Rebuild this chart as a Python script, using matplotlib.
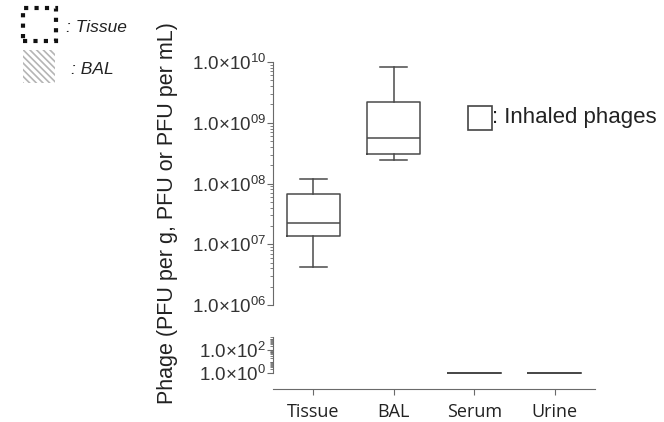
import numpy as np
import matplotlib.pyplot as plt
from matplotlib.patches import Rectangle
from matplotlib.ticker import FixedLocator, LogLocator, NullFormatter

plt.rcParams['font.family'] = ['Liberation Sans', 'DejaVu Sans']
plt.rcParams['mathtext.fontset'] = 'custom'
plt.rcParams['mathtext.rm'] = 'Liberation Sans'
plt.rcParams['mathtext.it'] = 'Liberation Sans:italic'
plt.rcParams['hatch.linewidth'] = 1.2

# data
groups = ['Tissue', 'BAL', 'Serum', 'Urine']
whislo = [4.2e6, 2.4e8, 1.0, 1.0]
q1 = [1.35e7, 3.1e8, 1.0, 1.0]
med = [2.2e7, 5.7e8, 1.0, 1.0]
q3 = [6.6e7, 2.2e9, 1.0, 1.0]
whishi = [1.2e8, 8.3e9, 1.0, 1.0]

top_ticks = [1e6, 1e7, 1e8, 1e9, 1e10]
bot_ticks = [1e0, 1e2]

stats = []
for i in range(len(groups)):
    stats.append(dict(med=med[i], q1=q1[i], q3=q3[i], whislo=whislo[i],
                      whishi=whishi[i], fliers=[], label=groups[i]))

lc = '#4a4a4a'
sc = '#6a6a6a'
W, H = 664, 422
fig = plt.figure(figsize=(6.64, 4.22), dpi=100)

left = 273 / W
width = 322 / W
ax_top = fig.add_axes([left, 1 - 305 / H, width, (305 - 62) / H])
ax_bot = fig.add_axes([left, 1 - 389 / H, width, (389 - 337) / H])

pos = np.arange(len(groups))
props = dict(color=lc, linewidth=1.1)
for ax, idx in ((ax_top, [0, 1]), (ax_bot, [2, 3])):
    ax.bxp([stats[i] for i in idx], positions=pos[idx], widths=0.66,
           showfliers=False, boxprops=props, whiskerprops=props,
           capprops=props, medianprops=props)
    ax.set_yscale('log')
    ax.set_xlim(-0.5, 3.5)
    for s in ['top', 'right']:
        ax.spines[s].set_visible(False)
    ax.spines['left'].set_color(sc)
    ax.tick_params(axis='y', colors=sc, labelcolor='#333333', labelsize=13.5,
                   length=4, width=0.8, pad=1)
    ax.tick_params(axis='y', which='minor', colors=sc, length=2, width=0.6)

ax_top.set_ylim(1e6, 1e10)
ax_top.spines['bottom'].set_visible(False)
ax_top.set_xticks([])
ax_top.yaxis.set_major_locator(FixedLocator(top_ticks))
ax_top.set_yticklabels([r'1.0×10$^{%02d}$' % int(np.log10(t)) for t in top_ticks])
ax_top.yaxis.set_minor_locator(LogLocator(base=10, subs=np.arange(2, 10)))
ax_top.yaxis.set_minor_formatter(NullFormatter())

ax_bot.set_ylim(10 ** -1.4, 10 ** 3.1)
ax_bot.spines['left'].set_bounds(1, 10 ** 3.1)
ax_bot.spines['bottom'].set_color(sc)
ax_bot.yaxis.set_major_locator(FixedLocator(bot_ticks))
ax_bot.set_yticklabels([r'1.0×10$^{%d}$' % int(np.log10(t)) for t in bot_ticks])
bot_minor = [m * 10 ** e for e in range(3) for m in range(2, 10)] + [10 ** 3.1]
ax_bot.yaxis.set_minor_locator(FixedLocator(bot_minor))
ax_bot.yaxis.set_minor_formatter(NullFormatter())
ax_bot.set_xticks(pos)
ax_bot.set_xticklabels(groups, fontsize=13, family='Open Sans', color='#222222')
ax_bot.tick_params(axis='x', colors=sc, labelcolor='#222222', length=4, pad=6)

fig.text(167 / W, 1 - 213 / H, 'Phage (PFU per g, PFU or PFU per mL)',
         rotation=90, ha='center', va='center', fontsize=15.5, color='#222222')

# legend-like keys
fig.add_artist(Rectangle((23 / W, 1 - 41 / H), 33 / W, 33 / H, transform=fig.transFigure,
                         fill=False, edgecolor='#111111', linestyle=(0, (1, 1.5)),
                         linewidth=3))
fig.text(66 / W, 1 - 27 / H, ': Tissue', fontsize=12.5, style='italic',
         va='center', color='#222222')
fig.add_artist(Rectangle((23 / W, 1 - 83 / H), 32 / W, 33 / H, transform=fig.transFigure,
                         facecolor='white', edgecolor='#b5b5b5', hatch='\\\\\\\\\\',
                         linewidth=0))
fig.text(71 / W, 1 - 70 / H, ': BAL', fontsize=12.5, style='italic',
         va='center', color='#222222')
fig.add_artist(Rectangle((468 / W, 1 - 130 / H), 24 / W, 24 / H, transform=fig.transFigure,
                         fill=False, edgecolor='#444444', linewidth=1.2))
fig.text(492 / W, 1 - 118 / H, ': Inhaled phages', fontsize=16,
         va='center', color='#222222')

fig.savefig('out.png', dpi=100)
